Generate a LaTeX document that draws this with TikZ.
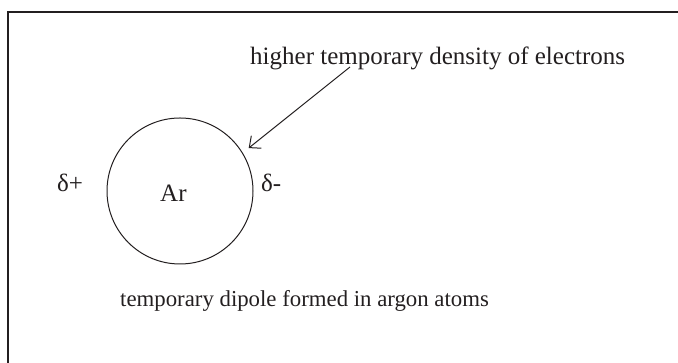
\documentclass[tikz,border=0pt]{standalone}
\usepackage{fontspec}
\setmainfont{Liberation Serif}
\usepackage{tikz}
\usetikzlibrary{arrows.meta,positioning,calc}
\definecolor{ink}{HTML}{231F20}

\begin{document}
\begin{tikzpicture}[
  x=1pt,y=1pt,
  lbl/.style={font=\fontsize{25}{30}\selectfont,text=ink,inner sep=0pt},
  atom/.style={circle,draw=ink,line width=1pt,minimum size=146pt,inner sep=0pt},
  arr/.style={-{Straight Barb[length=9pt,width=16pt]},line width=1pt,draw=ink}
]
\useasboundingbox (0,0) rectangle (678,363);
% frame, open to the right and below
\draw[line width=2pt,draw=ink] (8,-10) -- (8,351) -- (690,351);
\node[atom] (ar) at (180,172) {};
\node[lbl,anchor=base west] (arname) at (160,161) {Ar};
\node[lbl,anchor=base west] (dplus) at (57,171) {δ+};
\node[lbl,anchor=base west] (dminus) at (261,171) {δ-};
\node[lbl,anchor=base west] (hi) at (250,298) {higher temporary density of electrons};
\node[lbl,anchor=base west,font=\fontsize{22.8}{27}\selectfont] (cap) at (120,56) {temporary dipole formed in argon atoms};
\coordinate (tail) at (350,296);
\coordinate (tip) at ($(ar.center)+(32:81)$);
\draw[arr] (tail) -- (tip);
\end{tikzpicture}
\end{document}
